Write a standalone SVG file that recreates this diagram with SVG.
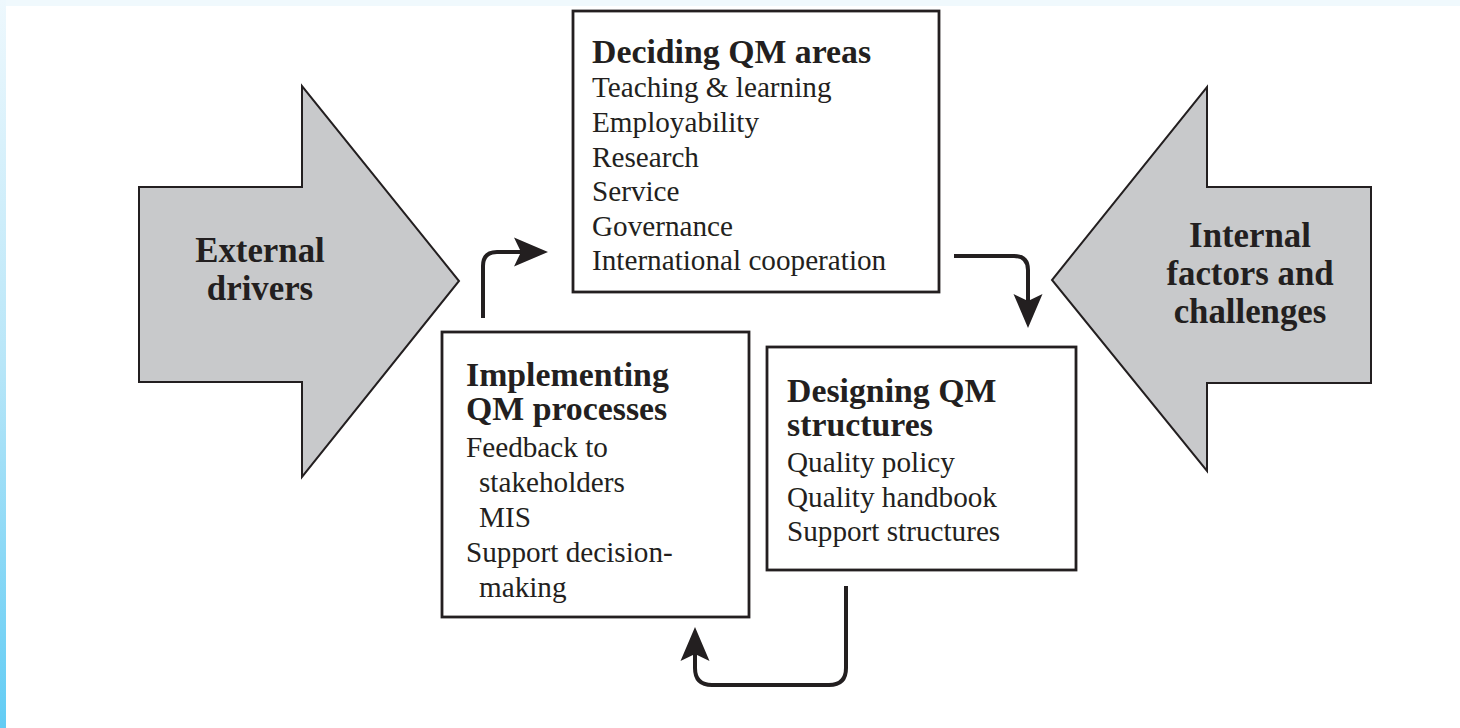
<svg xmlns="http://www.w3.org/2000/svg" width="1460" height="728" viewBox="0 0 1460 728">
  <defs>
    <linearGradient id="edgeBlue" x1="0" y1="0" x2="0" y2="1">
      <stop offset="0" stop-color="#eef8fd"/>
      <stop offset="0.5" stop-color="#b8e6f8"/>
      <stop offset="1" stop-color="#62ccf4"/>
    </linearGradient>
    <marker id="head" markerUnits="userSpaceOnUse" viewBox="-8 -16 36 32" markerWidth="36" markerHeight="32" refX="0" refY="0" orient="auto">
      <path d="M-7,-14.5 L27,0 L-7,14.5 L0,0 Z" fill="#231f20"/>
    </marker>
  </defs>
  <style>
    .big { fill: #c8c9cb; stroke: #231f20; stroke-width: 2; stroke-linejoin: miter; }
    .box { fill: #ffffff; stroke: #231f20; stroke-width: 2.8; }
    .flow { fill: none; stroke: #231f20; stroke-width: 4; marker-end: url(#head); }
    text { font-family: "Liberation Serif", "Times New Roman", serif; fill: #231f20; }
    .title { font-size: 33.8px; font-weight: bold; }
    .label { font-size: 34.8px; font-weight: bold; text-anchor: middle; }
    .item { font-size: 29.2px; }
  </style>

  <!-- page background with thin tinted edges -->
  <rect x="0" y="0" width="1460" height="728" fill="#ffffff"/>
  <rect x="0" y="0" width="1460" height="6" fill="#f0f9fd"/>
  <rect x="0" y="0" width="6" height="728" fill="url(#edgeBlue)"/>

  <!-- external pressure arrow -->
  <g id="external-drivers">
    <path class="big" d="M139,187 H302 V86 L459,281 L302,477 V382 H139 Z"/>
    <text class="label" x="260" y="262">External</text>
    <text class="label" x="260" y="300">drivers</text>
  </g>

  <!-- internal pressure arrow -->
  <g id="internal-factors">
    <path class="big" d="M1371,187 H1207 V87 L1052,280 L1207,471 V383 H1371 Z"/>
    <text class="label" x="1250" y="247">Internal</text>
    <text class="label" x="1250" y="285">factors and</text>
    <text class="label" x="1250" y="323">challenges</text>
  </g>

  <g id="deciding-areas">
    <rect class="box" x="573" y="11" width="366" height="281"/>
    <text class="title" x="592" y="63">Deciding QM areas</text>
    <text class="item" x="592" y="97">Teaching &amp; learning</text>
    <text class="item" x="592" y="132">Employability</text>
    <text class="item" x="592" y="166.5">Research</text>
    <text class="item" x="592" y="201">Service</text>
    <text class="item" x="592" y="236">Governance</text>
    <text class="item" x="592" y="270">International cooperation</text>
  </g>

  <g id="designing-structures">
    <rect class="box" x="767" y="347" width="309" height="223"/>
    <text class="title" x="787" y="402">Designing QM</text>
    <text class="title" x="787" y="436">structures</text>
    <text class="item" x="787" y="472">Quality policy</text>
    <text class="item" x="787" y="507">Quality handbook</text>
    <text class="item" x="787" y="541">Support structures</text>
  </g>

  <g id="implementing-processes">
    <rect class="box" x="442" y="332" width="307" height="285"/>
    <text class="title" x="466" y="386">Implementing</text>
    <text class="title" x="466" y="420">QM processes</text>
    <text class="item" x="466" y="457">Feedback to</text>
    <text class="item" x="479" y="492">stakeholders</text>
    <text class="item" x="479" y="527">MIS</text>
    <text class="item" x="466" y="562">Support decision-</text>
    <text class="item" x="479" y="597">making</text>
  </g>

  <!-- cycle connectors -->
  <g id="connectors">
    <path class="flow" d="M483,318 V266 Q483,252 497,252 H521"/>
    <path class="flow" d="M954,256 H1014 Q1028,256 1028,270 V301"/>
    <path class="flow" d="M846,586 V668 Q846,685 829,685 H712 Q695,685 695,668 V654"/>
  </g>
</svg>
